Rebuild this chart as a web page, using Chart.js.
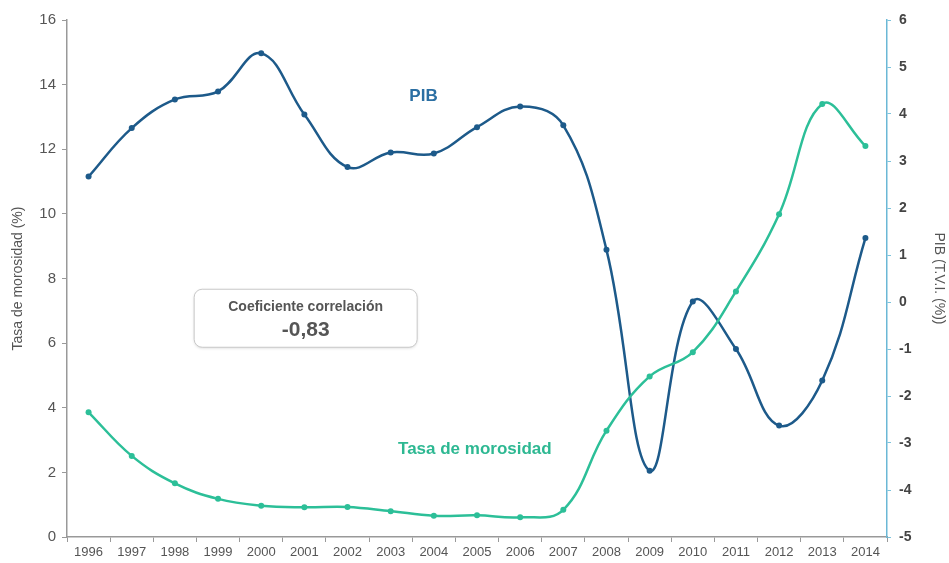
<!DOCTYPE html>
<html>
<head>
<meta charset="utf-8">
<script src="https://cdn.jsdelivr.net/npm/chart.js@4"></script>
<style>
  html, body { margin: 0; padding: 0; background: #fff; }
  #wrap { width: 949px; height: 563px; }
</style>
</head>
<body>
<div id="wrap"><canvas id="chart" width="949" height="563"></canvas></div>
<script>
const years = ['1996', '1997', '1998', '1999', '2000', '2001', '2002', '2003', '2004', '2005',
  '2006', '2007', '2008', '2009', '2010', '2011', '2012', '2013', '2014'];
const morosidad = [3.86, 2.51, 1.66, 1.18, 0.97, 0.92, 0.93, 0.80, 0.66, 0.67,
  0.61, 0.84, 3.29, 4.97, 5.72, 7.60, 9.99, 13.40, 12.10];
const pib = [2.67, 3.70, 4.31, 4.48, 5.29, 3.99, 2.87, 3.18, 3.16, 3.72,
  4.16, 3.76, 1.11, -3.59, 0.01, -1.00, -2.63, -1.67, 1.36];
const leftTicks = [0, 2, 4, 6, 8, 10, 12, 14, 16];
const rightTicks = [-5, -4, -3, -2, -1, 0, 1, 2, 3, 4, 5, 6];

const blue = '#1d5a8a';
const green = '#2cbf98';
const font = "'Liberation Sans', Arial, sans-serif";

// text labels and the correlation box
const notes = {
  id: 'notes',
  afterDraw(chart) {
    const { ctx, scales } = chart;
    const x = scales.x, yl = scales.y;
    const at = (i, v) => [x.getPixelForValue(i), yl.getPixelForValue(v)];
    ctx.save();
    ctx.textAlign = 'center';
    ctx.textBaseline = 'middle';

    let [px, py] = at(7.76, 13.65);
    ctx.fillStyle = '#2b6fa3';
    ctx.font = 'bold 17px ' + font;
    ctx.fillText('PIB', px, py);

    [px, py] = at(8.95, 2.7);
    ctx.fillStyle = '#2db892';
    ctx.fillText('Tasa de morosidad', px, py);

    // box
    const [bx, by] = at(5.03, 6.77);
    const w = 223, h = 58, r = 8;
    const left = bx - w / 2, top = by - h / 2;
    ctx.shadowColor = 'rgba(0,0,0,0.15)';
    ctx.shadowBlur = 3;
    ctx.shadowOffsetY = 1;
    ctx.fillStyle = '#fff';
    ctx.strokeStyle = '#c8c8c8';
    ctx.lineWidth = 1;
    ctx.beginPath();
    ctx.roundRect(left, top, w, h, r);
    ctx.fill();
    ctx.shadowColor = 'transparent';
    ctx.stroke();
    ctx.fillStyle = '#555';
    ctx.font = 'bold 14px ' + font;
    ctx.fillText('Coeficiente correlación', bx, top + 18);
    ctx.font = 'bold 21px ' + font;
    ctx.fillText('-0,83', bx, top + 41);
    ctx.restore();
  }
};

new Chart(document.getElementById('chart'), {
  type: 'line',
  data: {
    labels: years,
    datasets: [
      {
        label: 'Tasa de morosidad',
        data: morosidad,
        yAxisID: 'y',
        borderColor: green,
        backgroundColor: green,
        borderWidth: 2.5,
        pointRadius: 3,
        pointBorderWidth: 0,
        tension: 0.4,
      },
      {
        label: 'PIB',
        data: pib,
        yAxisID: 'y1',
        borderColor: blue,
        backgroundColor: blue,
        borderWidth: 2.5,
        pointRadius: 3,
        pointBorderWidth: 0,
        tension: 0.4,
      },
    ],
  },
  options: {
    responsive: false,
    animation: false,
    layout: { padding: { top: 20, left: 0, right: 0, bottom: 0 } },
    plugins: { legend: { display: false }, tooltip: { enabled: false } },
    scales: {
      x: {
        offset: true,
        grid: { display: true, drawOnChartArea: false, offset: true, tickLength: 5, color: '#999' },
        border: { color: '#999', width: 1.5 },
        ticks: { color: '#555', font: { family: font, size: 13 }, padding: 3, maxRotation: 0, autoSkip: false },
        afterFit(s) { s.height = 26; },
      },
      y: {
        position: 'left',
        min: 0,
        max: 16,
        afterBuildTicks(s) { s.ticks = leftTicks.map((v) => ({ value: v })); },
        grid: { display: true, drawOnChartArea: false, tickLength: 5, color: '#999' },
        border: { color: '#999', width: 1.5 },
        ticks: { color: '#555', font: { family: font, size: 15 }, padding: 6 },
        title: { display: true, text: 'Tasa de morosidad (%)', color: '#555', font: { family: font, size: 14 }, padding: { top: 10, bottom: 0 } },
        afterFit(s) { s.width = 67; },
      },
      y1: {
        position: 'right',
        min: -5,
        max: 6,
        afterBuildTicks(s) { s.ticks = rightTicks.map((v) => ({ value: v })); },
        grid: { display: true, drawOnChartArea: false, tickLength: 4, color: '#7cc3dc' },
        border: { color: '#6bb8d6', width: 1.5 },
        ticks: { color: '#444', font: { family: font, size: 14, weight: 'bold' }, padding: 8 },
        title: { display: true, text: 'PIB (T.V.I. (%))', color: '#555', font: { family: font, size: 14 }, padding: 2 },
        afterFit(s) { s.width = 62; },
      },
    },
  },
  plugins: [notes],
});
</script>
</body>
</html>
